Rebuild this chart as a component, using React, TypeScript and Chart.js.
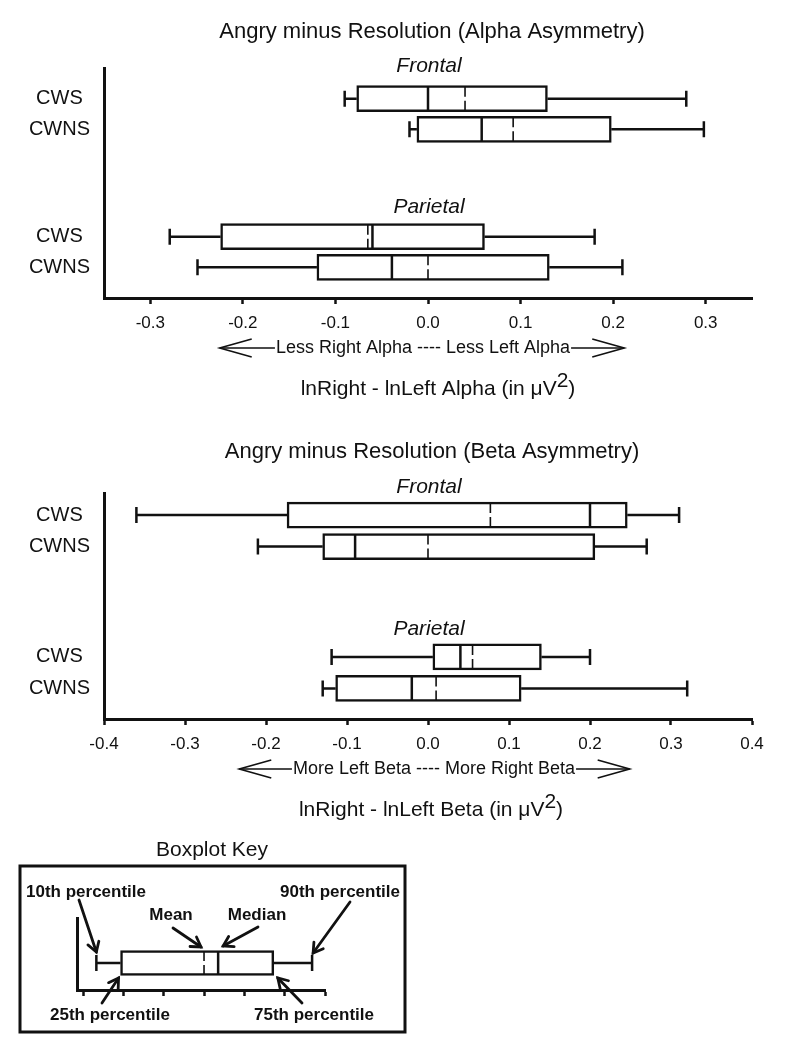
import React, { useEffect, useRef } from 'react';
import { Chart, registerables } from 'chart.js';

Chart.register(...registerables);

// ---------------- data ----------------
const rowLabels = ['CWS', 'CWNS', 'CWS', 'CWNS'];
const rowPositions = [1, 2, 5.5, 6.5];
const groupNames = ['Frontal', 'Parietal'];

// Alpha asymmetry (Frontal CWS, Frontal CWNS, Parietal CWS, Parietal CWNS)
const alphaP10 = [-0.09, -0.02, -0.279, -0.249];
const alphaQ1 = [-0.077, -0.012, -0.224, -0.12];
const alphaMedian = [0.0, 0.058, -0.06, -0.039];
const alphaMean = [0.04, 0.092, -0.065, 0.0];
const alphaQ3 = [0.129, 0.198, 0.061, 0.131];
const alphaP90 = [0.279, 0.298, 0.18, 0.21];
const alphaTicks = [-0.3, -0.2, -0.1, 0.0, 0.1, 0.2, 0.3];

// Beta asymmetry
const betaP10 = [-0.36, -0.21, -0.119, -0.13];
const betaQ1 = [-0.174, -0.13, 0.006, -0.114];
const betaMedian = [0.2, -0.09, 0.04, -0.02];
const betaMean = [0.077, 0.0, 0.055, 0.01];
const betaQ3 = [0.246, 0.206, 0.14, 0.115];
const betaP90 = [0.31, 0.27, 0.2, 0.32];
const betaTicks = [-0.4, -0.3, -0.2, -0.1, 0.0, 0.1, 0.2, 0.3, 0.4];

// Boxplot key example
const keyP10 = [0.33];
const keyQ1 = [0.93];
const keyMean = [3.0];
const keyMedian = [3.35];
const keyQ3 = [4.73];
const keyP90 = [5.68];
const keyTicks = [0, 1, 2, 3, 4, 5, 6];

// ---------------- styling ----------------
const FONT = '"Liberation Sans", Arial, Helvetica, sans-serif';
const INK = '#111';
const W = 788;

type BoxCfg = {
  title: string;
  arrowText: string;
  xTitleMain: string;
  ticks: number[];
  min: number;
  max: number;
  yMin: number;
  yMax: number;
  p10: number[];
  q1: number[];
  median: number[];
  mean: number[];
  q3: number[];
  p90: number[];
  groupLabelPos: number[];
  arrowTips: number[];
  arrowTextDx: number;
  xTitleDx: number;
  areaTop: number;
  areaBottom: number;
  height: number;
};

const alphaCfg: BoxCfg = {
  title: 'Angry minus Resolution (Alpha Asymmetry)',
  arrowText: 'Less Right Alpha ---- Less Left Alpha',
  xTitleMain: 'lnRight - lnLeft Alpha (in \u03BCV',
  ticks: alphaTicks,
  min: -0.35,
  max: 0.35,
  yMin: 0,
  yMax: 7.5,
  p10: alphaP10,
  q1: alphaQ1,
  median: alphaMedian,
  mean: alphaMean,
  q3: alphaQ3,
  p90: alphaP90,
  groupLabelPos: [-0.05, 4.54],
  arrowTips: [-0.225, 0.212],
  arrowTextDx: -5,
  xTitleDx: 10,
  areaTop: 68,
  areaBottom: 298,
  height: 410,
};

const betaCfg: BoxCfg = {
  title: 'Angry minus Resolution (Beta Asymmetry)',
  arrowText: 'More Left Beta ---- More Right Beta',
  xTitleMain: 'lnRight - lnLeft Beta (in \u03BCV',
  ticks: betaTicks,
  min: -0.4,
  max: 0.4,
  yMin: 0.3,
  yMax: 7.47,
  p10: betaP10,
  q1: betaQ1,
  median: betaMedian,
  mean: betaMean,
  q3: betaQ3,
  p90: betaP90,
  groupLabelPos: [0.11, 4.62],
  arrowTips: [-0.233, 0.249],
  arrowTextDx: 6,
  xTitleDx: 3,
  areaTop: 73,
  areaBottom: 299,
  height: 410,
};

const BOX_H = 26;
const CAP = 8;

function drawBoxParts(
  ctx: CanvasRenderingContext2D,
  xs: any,
  y: number,
  p10: number,
  q1: number,
  med: number,
  mean: number,
  q3: number,
  p90: number,
  boxH: number,
  cap: number
) {
  const X = (v: number) => xs.getPixelForValue(v);
  ctx.save();
  ctx.strokeStyle = INK;
  ctx.lineWidth = 2.5;
  ctx.setLineDash([]);
  ctx.beginPath();
  ctx.moveTo(X(p10), y);
  ctx.lineTo(X(q1), y);
  ctx.moveTo(X(q3), y);
  ctx.lineTo(X(p90), y);
  ctx.moveTo(X(p10), y - cap);
  ctx.lineTo(X(p10), y + cap);
  ctx.moveTo(X(p90), y - cap);
  ctx.lineTo(X(p90), y + cap);
  ctx.stroke();
  // median
  ctx.beginPath();
  ctx.moveTo(X(med), y - boxH / 2 + 1);
  ctx.lineTo(X(med), y + boxH / 2 - 1);
  ctx.stroke();
  // mean (dashed)
  const seg = (boxH - 2 - 4) / 2;
  ctx.lineWidth = 1.6;
  ctx.setLineDash([seg, 4]);
  ctx.beginPath();
  ctx.moveTo(X(mean), y - boxH / 2 + 1);
  ctx.lineTo(X(mean), y + boxH / 2 - 1);
  ctx.stroke();
  ctx.restore();
}

function drawOpenArrowHead(
  ctx: CanvasRenderingContext2D,
  tipX: number,
  tipY: number,
  dir: number,
  len: number,
  half: number
) {
  ctx.beginPath();
  ctx.moveTo(tipX - dir * len, tipY - half);
  ctx.lineTo(tipX, tipY);
  ctx.lineTo(tipX - dir * len, tipY + half);
  ctx.stroke();
}

function createBoxChart(canvas: HTMLCanvasElement, cfg: BoxCfg) {
  const plugin = {
    id: 'boxParts',
    afterDatasetsDraw(chart: any) {
      const ctx = chart.ctx;
      const xs = chart.scales.x;
      const ys = chart.scales.y;
      rowPositions.forEach((p, i) => {
        drawBoxParts(
          ctx,
          xs,
          ys.getPixelForValue(p),
          cfg.p10[i],
          cfg.q1[i],
          cfg.median[i],
          cfg.mean[i],
          cfg.q3[i],
          cfg.p90[i],
          BOX_H,
          CAP
        );
      });
    },
    afterDraw(chart: any) {
      const ctx: CanvasRenderingContext2D = chart.ctx;
      const area = chart.chartArea;
      const xs = chart.scales.x;
      const ys = chart.scales.y;
      const cx = (area.left + area.right) / 2;
      ctx.save();
      ctx.fillStyle = INK;
      ctx.strokeStyle = INK;
      ctx.textBaseline = 'middle';
      ctx.textAlign = 'center';
      // title
      ctx.font = `22px ${FONT}`;
      ctx.fillText(cfg.title, cx + 4, 32);
      // group labels
      ctx.font = `italic 21px ${FONT}`;
      groupNames.forEach((g, i) => {
        ctx.fillText(g, xs.getPixelForValue(0) + 1, ys.getPixelForValue(cfg.groupLabelPos[i]));
      });
      // arrow annotation
      const ay = area.bottom + 50;
      ctx.font = `18px ${FONT}`;
      const tcx = cx + cfg.arrowTextDx;
      const tw = ctx.measureText(cfg.arrowText).width;
      ctx.fillText(cfg.arrowText, tcx, ay);
      const lt = xs.getPixelForValue(cfg.arrowTips[0]);
      const rt = xs.getPixelForValue(cfg.arrowTips[1]);
      ctx.lineWidth = 1.6;
      ctx.beginPath();
      ctx.moveTo(lt, ay);
      ctx.lineTo(tcx - tw / 2 - 1, ay);
      ctx.moveTo(tcx + tw / 2 + 1, ay);
      ctx.lineTo(rt, ay);
      ctx.stroke();
      drawOpenArrowHead(ctx, lt, ay, -1, 32, 9);
      drawOpenArrowHead(ctx, rt, ay, 1, 32, 9);
      // x title with superscript
      const ty = area.bottom + 91;
      ctx.font = `21px ${FONT}`;
      ctx.textAlign = 'left';
      const w1 = ctx.measureText(cfg.xTitleMain).width;
      const w2 = ctx.measureText('2').width;
      const w3 = ctx.measureText(')').width;
      let x = cx + cfg.xTitleDx - (w1 + w2 + w3) / 2;
      ctx.fillText(cfg.xTitleMain, x, ty);
      x += w1;
      ctx.fillText('2', x, ty - 8);
      x += w2;
      ctx.fillText(')', x, ty);
      ctx.restore();
    },
  };

  return new Chart(canvas, {
    type: 'bar',
    data: {
      datasets: [
        {
          data: rowPositions.map((p, i) => ({ y: p, x: [cfg.q1[i], cfg.q3[i]] })) as any,
          backgroundColor: '#ffffff',
          borderColor: INK,
          borderWidth: 2.5,
          borderSkipped: false,
          barThickness: BOX_H,
        } as any,
      ],
    },
    options: {
      indexAxis: 'y',
      animation: false,
      responsive: false,
      events: [],
      layout: { padding: { top: cfg.areaTop, right: W - 752, left: 0, bottom: 0 } },
      plugins: { legend: { display: false }, tooltip: { enabled: false }, title: { display: false } },
      scales: {
        x: {
          type: 'linear',
          min: cfg.min,
          max: cfg.max,
          offset: false,
          afterBuildTicks: (s: any) => {
            s.ticks = cfg.ticks.map((v) => ({ value: v }));
          },
          afterFit: (s: any) => {
            s.height = cfg.height - cfg.areaBottom;
          },
          border: { display: true, width: 3, color: INK },
          grid: { drawOnChartArea: false, drawTicks: true, tickLength: 6, tickWidth: 2.5, tickColor: INK },
          ticks: {
            autoSkip: false,
            maxRotation: 0,
            padding: 9,
            color: INK,
            font: { family: FONT, size: 17 },
            callback: (v: any) => Number(v).toFixed(1),
          },
        },
        y: {
          type: 'linear',
          reverse: true,
          offset: false,
          min: cfg.yMin,
          max: cfg.yMax,
          afterBuildTicks: (s: any) => {
            s.ticks = rowPositions.map((v) => ({ value: v }));
          },
          afterFit: (s: any) => {
            s.width = 104;
          },
          border: { display: true, width: 3, color: INK },
          grid: { drawOnChartArea: false, drawTicks: false, offset: false },
          ticks: {
            autoSkip: false,
            crossAlign: 'center',
            padding: 14,
            color: INK,
            font: { family: FONT, size: 20 },
            callback: (v: any) => rowLabels[rowPositions.indexOf(Number(v))],
          },
        },
      },
    } as any,
    plugins: [plugin],
  });
}

function createKeyChart(canvas: HTMLCanvasElement) {
  const H = 220;
  const top = 88;
  const bottom = 160;
  const plugin = {
    id: 'keyParts',
    afterDatasetsDraw(chart: any) {
      const ys = chart.scales.y;
      drawBoxParts(
        chart.ctx,
        chart.scales.x,
        ys.getPixelForValue(1),
        keyP10[0],
        keyQ1[0],
        keyMedian[0],
        keyMean[0],
        keyQ3[0],
        keyP90[0],
        25,
        8
      );
    },
    afterDraw(chart: any) {
      const ctx: CanvasRenderingContext2D = chart.ctx;
      const xs = chart.scales.x;
      const ys = chart.scales.y;
      const X = (v: number) => xs.getPixelForValue(v);
      const yc = ys.getPixelForValue(1);
      ctx.save();
      ctx.fillStyle = INK;
      ctx.strokeStyle = INK;
      // frame
      ctx.lineWidth = 3;
      ctx.strokeRect(20, 36, 385, 166);
      ctx.textAlign = 'center';
      ctx.textBaseline = 'middle';
      ctx.font = `21px ${FONT}`;
      ctx.fillText('Boxplot Key', 212, 20);
      ctx.font = `bold 17px ${FONT}`;
      ctx.fillText('10th percentile', 86, 62);
      ctx.fillText('90th percentile', 340, 62);
      ctx.fillText('Mean', 171, 85);
      ctx.fillText('Median', 257, 85);
      ctx.fillText('25th percentile', 110, 185);
      ctx.fillText('75th percentile', 314, 185);
      // arrows
      const arrows: number[][] = [
        [79, 70, X(keyP10[0]), yc - 11],
        [173, 98, X(keyMean[0]) - 3, yc - 16],
        [258, 97, X(keyMedian[0]) + 5, yc - 17],
        [350, 72, X(keyP90[0]) + 1, yc - 10],
        [102, 173, X(keyQ1[0]) - 2, yc + 15],
        [302, 173, X(keyQ3[0]) + 4, yc + 15],
      ];
      ctx.lineWidth = 2.8;
      ctx.lineCap = 'round';
      arrows.forEach(([x0, y0, x1, y1]) => {
        ctx.beginPath();
        ctx.moveTo(x0, y0);
        ctx.lineTo(x1, y1);
        ctx.stroke();
        const a = Math.atan2(y1 - y0, x1 - x0);
        const L = 11;
        const spread = 0.55;
        ctx.beginPath();
        ctx.moveTo(x1 - L * Math.cos(a - spread), y1 - L * Math.sin(a - spread));
        ctx.lineTo(x1, y1);
        ctx.lineTo(x1 - L * Math.cos(a + spread), y1 - L * Math.sin(a + spread));
        ctx.stroke();
      });
      ctx.restore();
    },
  };

  return new Chart(canvas, {
    type: 'bar',
    data: {
      datasets: [
        {
          data: [{ y: 1, x: [keyQ1[0], keyQ3[0]] }] as any,
          backgroundColor: '#ffffff',
          borderColor: INK,
          borderWidth: 2.5,
          borderSkipped: false,
          barThickness: 25,
        } as any,
      ],
    },
    options: {
      indexAxis: 'y',
      animation: false,
      responsive: false,
      events: [],
      layout: { padding: { top, right: W - 325, left: 0, bottom: 0 } },
      plugins: { legend: { display: false }, tooltip: { enabled: false } },
      scales: {
        x: {
          type: 'linear',
          min: -0.15,
          max: 6,
          offset: false,
          afterBuildTicks: (s: any) => {
            s.ticks = keyTicks.map((v) => ({ value: v }));
          },
          afterFit: (s: any) => {
            s.height = H - bottom;
          },
          border: { display: true, width: 3, color: INK },
          grid: { drawOnChartArea: false, drawTicks: true, tickLength: 6, tickWidth: 2.5, tickColor: INK },
          ticks: { display: false },
        },
        y: {
          type: 'linear',
          reverse: true,
          offset: false,
          min: 0,
          max: 1.6,
          afterFit: (s: any) => {
            s.width = 77;
          },
          border: { display: true, width: 3, color: INK },
          grid: { drawOnChartArea: false, drawTicks: false, offset: false },
          ticks: { display: false },
        },
      },
    } as any,
    plugins: [plugin],
  });
}

export default function App() {
  const r1 = useRef<HTMLCanvasElement>(null);
  const r2 = useRef<HTMLCanvasElement>(null);
  const r3 = useRef<HTMLCanvasElement>(null);

  useEffect(() => {
    const c1 = createBoxChart(r1.current as HTMLCanvasElement, alphaCfg);
    const c2 = createBoxChart(r2.current as HTMLCanvasElement, betaCfg);
    const c3 = createKeyChart(r3.current as HTMLCanvasElement);
    return () => {
      c1.destroy();
      c2.destroy();
      c3.destroy();
    };
  }, []);

  return (
    <div style={{ position: 'absolute', left: 0, top: 0, width: W, height: 1050, background: '#fff', overflow: 'hidden' }}>
      <canvas ref={r1} width={W} height={410} style={{ position: 'absolute', left: 0, top: 0, width: W, height: 410 }} />
      <canvas ref={r2} width={W} height={410} style={{ position: 'absolute', left: 0, top: 420, width: W, height: 410 }} />
      <canvas ref={r3} width={W} height={220} style={{ position: 'absolute', left: 0, top: 830, width: W, height: 220 }} />
    </div>
  );
}
